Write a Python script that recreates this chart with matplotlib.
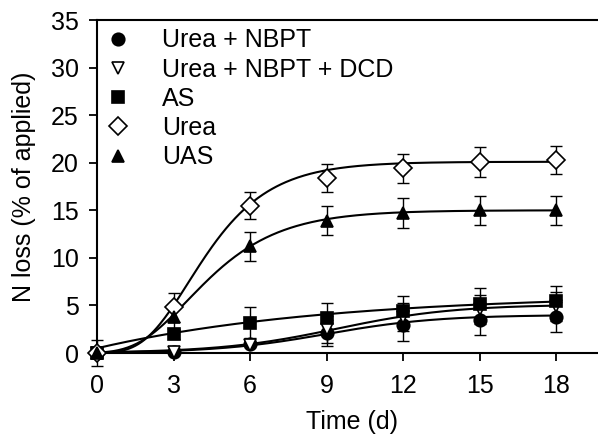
import numpy as np
import matplotlib
matplotlib.use("Agg")
import matplotlib.pyplot as plt

# sampling days
days = [0, 3, 6, 9, 12, 15, 18]

# measured N loss (% of applied) and error bars
urea_nbpt = [0.0, 0.1, 0.9, 2.1, 2.9, 3.5, 3.8]
urea_nbpt_err = [0.0, 0.0, 0.0, 1.4, 1.6, 1.6, 1.6]
urea_nbpt_dcd = [0.0, 0.1, 0.8, 2.5, 3.8, 4.6, 4.9]
urea_nbpt_dcd_err = [0.0, 0.0, 0.0, 1.4, 1.5, 1.5, 1.5]
as_loss = [0.0, 2.0, 3.2, 3.7, 4.4, 5.2, 5.5]
as_err = [1.4, 0.5, 1.6, 1.6, 1.6, 1.6, 1.5]
urea = [0.0, 4.8, 15.5, 18.4, 19.4, 20.1, 20.3]
urea_err = [0.0, 1.5, 1.4, 1.5, 1.5, 1.6, 1.5]
uas = [0.0, 3.8, 11.2, 13.9, 14.7, 15.0, 15.0]
uas_err = [0.0, 1.4, 1.5, 1.5, 1.6, 1.5, 1.5]

# fitted curve parameters
# sigmoid: a / (1 + exp(-(t - t0) / b))
urea_nbpt_fit = (4.0, 9.0, 2.16)
urea_nbpt_dcd_fit = (5.1, 9.4, 2.3)
# gompertz: a * exp(-exp(-(t - t0) / b))
urea_fit = (20.1, 3.58, 1.75)
uas_fit = (15.0, 3.55, 1.99)
# exponential rise: y0 + a * (1 - exp(-k t))
as_fit = (0.5, 5.69, 0.11)

labels = ["Urea + NBPT", "Urea + NBPT + DCD", "AS", "Urea", "UAS"]


def sigmoid(t, a, t0, b):
    return a / (1.0 + np.exp(-(t - t0) / b))


def gompertz(t, a, t0, b):
    return a * np.exp(-np.exp(-(t - t0) / b))


def rise(t, y0, a, k):
    return y0 + a * (1.0 - np.exp(-k * t))


plt.rcParams["font.family"] = ["Liberation Sans", "DejaVu Sans"]
plt.rcParams["font.size"] = 18

fig = plt.figure(figsize=(5.98, 4.36), dpi=100)
ax = fig.add_axes([97 / 598, 83 / 436, 510 / 598, 333 / 436])

t = np.linspace(0, 18, 300)
curves = [
    sigmoid(t, *urea_nbpt_fit),
    sigmoid(t, *urea_nbpt_dcd_fit),
    rise(t, *as_fit),
    gompertz(t, *urea_fit),
    gompertz(t, *uas_fit),
]
for c in curves:
    ax.plot(t, c, color="black", lw=1.5, zorder=2)

series = [
    (urea_nbpt, urea_nbpt_err, "o", "black", 9),
    (urea_nbpt_dcd, urea_nbpt_dcd_err, "v", "white", 9),
    (as_loss, as_err, "s", "black", 8),
    (urea, urea_err, "D", "white", 9.5),
    (uas, uas_err, "^", "black", 9),
]
handles = []
for (vals, err, mk, fc, ms), lab in zip(series, labels):
    ax.errorbar(days, vals, yerr=err, fmt="none", ecolor="black",
                elinewidth=1.0, capsize=4, capthick=1.0, zorder=3, clip_on=False)
    h, = ax.plot(days, vals, linestyle="none", marker=mk, markersize=ms,
                 markerfacecolor=fc, markeredgecolor="black", markeredgewidth=1.2,
                 zorder=4, clip_on=False, label=lab)
    handles.append(h)

ax.set_xlim(0, 20)
ax.set_ylim(0, 35)
ax.set_xticks(days)
ax.set_yticks(np.arange(0, 36, 5))
ax.tick_params(direction="out", length=6, width=1.3, pad=7)
ax.tick_params(axis="x", pad=9)
ax.spines["right"].set_visible(False)
for s in ("left", "bottom", "top"):
    ax.spines[s].set_linewidth(1.5)

ax.set_xlabel("Time (d)", labelpad=9)
ax.set_ylabel("N loss (% of applied)", labelpad=11)

ax.legend(handles=handles, loc="upper left", bbox_to_anchor=(0.017, 0.975),
          frameon=False, borderpad=0, borderaxespad=0, handlelength=1.0,
          handletextpad=1.25, labelspacing=0.21, fontsize=18)

fig.savefig("out.png", dpi=100)
